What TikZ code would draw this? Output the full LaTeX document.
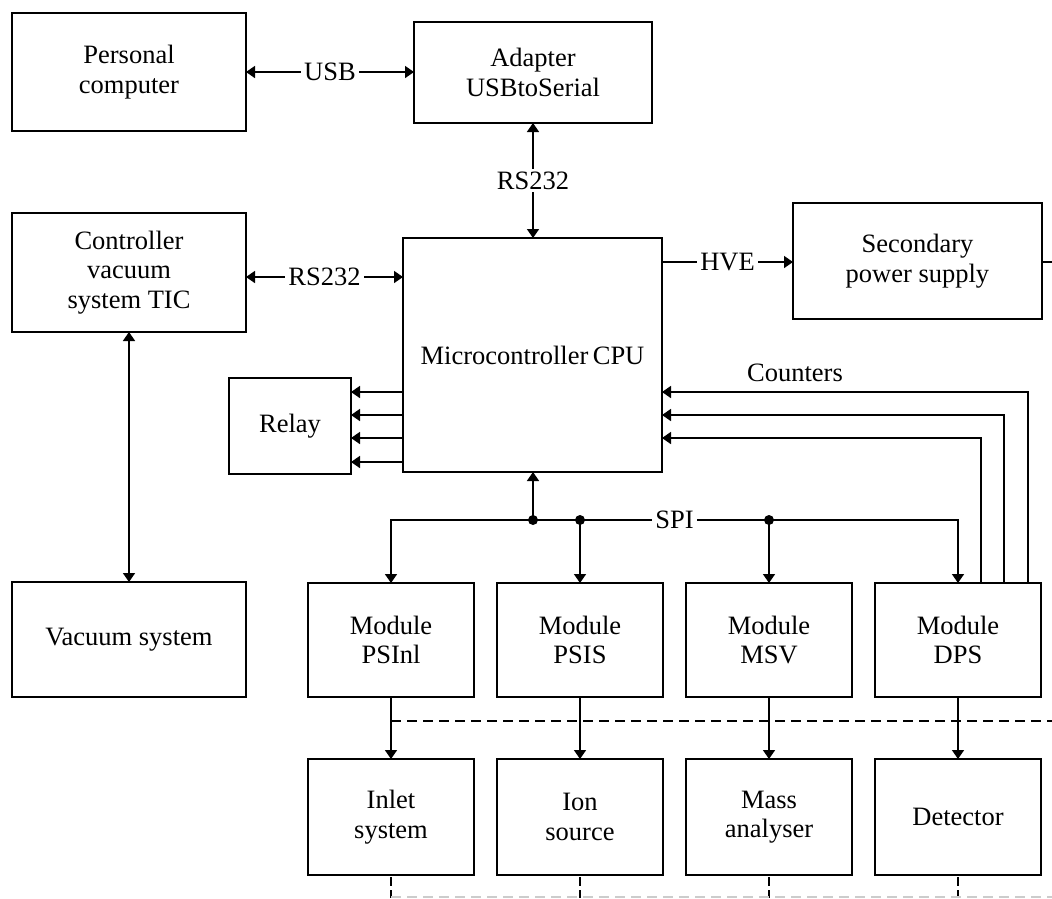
\documentclass[tikz,border=0pt]{standalone}
\usepackage{fontspec}
\setmainfont{Liberation Serif}
\usetikzlibrary{arrows.meta,calc}
\tikzset{
  every node/.style={font=\fontsize{26.5}{29.5}\selectfont},
  box/.style={draw, line width=1.6pt, inner sep=0pt, outer sep=0pt, align=center},
  lbl/.style={fill=white, inner sep=3pt},
  wire/.style={line width=1.6pt},
  arr/.style={wire, -{Triangle[length=9pt,width=12pt]}},
  biarr/.style={wire, {Triangle[length=9pt,width=12pt]}-{Triangle[length=9pt,width=12pt]}},
  dot/.style={circle, fill=black, inner sep=0pt, minimum size=10pt},
  dsh/.style={wire, dash pattern=on 10pt off 6pt},
}
\begin{document}
\begin{tikzpicture}[x=1pt,y=-1pt]
\useasboundingbox (0,0) rectangle (1052,898);
% boxes
\node[box, minimum width=234pt, minimum height=118pt] (pc) at (129,72) {Personal\\computer};
\node[box, minimum width=238pt, minimum height=101pt] (ad) at (533,72.5) {Adapter\\USBtoSerial};
\node[box, minimum width=234pt, minimum height=119pt] (tic) at (129,272.5) {Controller\\vacuum\\system TIC};
\node[box, minimum width=259pt, minimum height=234pt] (mcu) at (532.5,355) {Microcontroller\,CPU};
\node[box, minimum width=249pt, minimum height=116pt] (sps) at (917.5,261) {Secondary\\power supply};
\node[box, minimum width=122pt, minimum height=96pt] (relay) at (290,426) {Relay};
\node[box, minimum width=234pt, minimum height=115pt] (vac) at (129,639.5) {Vacuum system};
\node[box, minimum width=166pt, minimum height=114pt] (m1) at (391,640) {Module\\PSInl};
\node[box, minimum width=166pt, minimum height=114pt] (m2) at (580,640) {Module\\PSIS};
\node[box, minimum width=166pt, minimum height=114pt] (m3) at (769,640) {Module\\MSV};
\node[box, minimum width=166pt, minimum height=114pt] (m4) at (958,640) {Module\\DPS};
\node[box, minimum width=166pt, minimum height=116pt] (l1) at (391,817) {Inlet\\system};
\node[box, minimum width=166pt, minimum height=116pt] (l2) at (580,817) {Ion\\source};
\node[box, minimum width=166pt, minimum height=116pt] (l3) at (769,817) {Mass\\analyser};
\node[box, minimum width=166pt, minimum height=116pt] (l4) at (958,817) {Detector};
% top links
\draw[biarr] (pc.east |- 0,72) -- node[lbl] {USB} (ad.west |- 0,72);
\draw[biarr] (533,123) -- node[lbl] {RS232} (533,238);
\draw[biarr] (tic.east |- 0,277) -- node[lbl] {RS232} (mcu.west |- 0,277);
\draw[arr] (mcu.east |- 0,262) -- node[lbl] {HVE} (sps.west |- 0,262);
\draw[wire] (sps.east |- 0,262) -- ++(10,0);
\draw[biarr] (tic.south) -- (vac.north);
% relay
\foreach \yy in {392,415,438,462}
  \draw[arr] (mcu.west |- 0,\yy) -- (relay.east |- 0,\yy);
% counters
\node (cnt) at (795,373) {Counters};
\coordinate (c1) at (1028,392);
\coordinate (c2) at (1004,415);
\coordinate (c3) at (981,438);
\draw[arr] (c1 |- m4.north) -- (c1) -- (mcu.east |- c1);
\draw[arr] (c2 |- m4.north) -- (c2) -- (mcu.east |- c2);
\draw[arr] (c3 |- m4.north) -- (c3) -- (mcu.east |- c3);
% SPI bus
\coordinate (j1) at (533,520);
\coordinate (j2) at (580,520);
\coordinate (j3) at (769,520);
\draw[arr] (j1) -- (j1 |- mcu.south);
\draw[arr] (j1) -| (m1.north);
\draw[wire] (j1) -- (j2) -- node[lbl, pos=0.5] {SPI} (j3);
\draw[arr] (j3) -| (m4.north);
\draw[arr] (j2) -- (m2.north);
\draw[arr] (j3) -- (m3.north);
\node[dot] at (j1) {};
\node[dot] at (j2) {};
\node[dot] at (j3) {};
% module -> units
\draw[arr] (m1.south) -- (l1.north);
\draw[arr] (m2.south) -- (l2.north);
\draw[arr] (m3.south) -- (l3.north);
\draw[arr] (m4.south) -- (l4.north);
\coordinate (dl) at (391,721);
\draw[dsh] (dl) -- (1052,721);
% bottom stubs
\foreach \n in {l1,l2,l3,l4}
  \draw[wire, dash pattern=on 9pt off 4pt] ([yshift=-2pt]\n.south) -- (\n.south |- 0,898);
\draw[line width=1.6pt, black!20, dash pattern=on 10pt off 6pt] (391,897) -- (1052,897);
\end{tikzpicture}
\end{document}
